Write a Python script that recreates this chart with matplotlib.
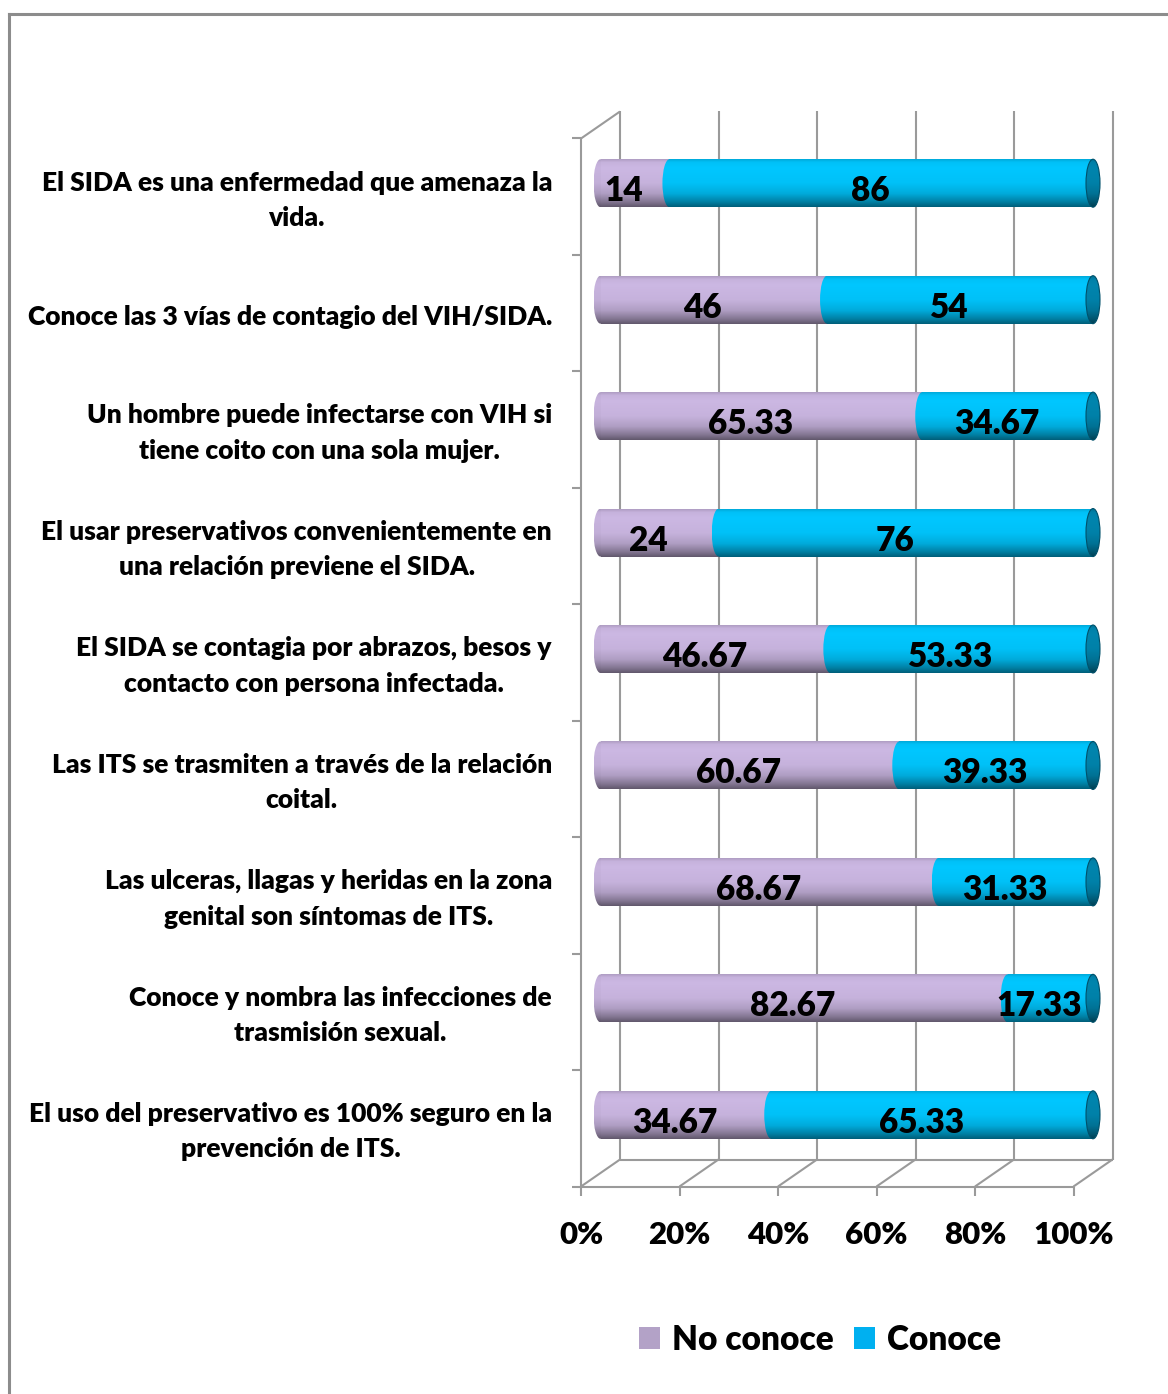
import numpy as np
import matplotlib
matplotlib.use("Agg")
import matplotlib.pyplot as plt
from matplotlib.patches import Ellipse, Patch
from matplotlib.lines import Line2D

# ---------------- data ----------------
categories = [
    "El SIDA es una enfermedad que amenaza la\nvida.",
    "Conoce las 3 vías de contagio del VIH/SIDA.",
    "Un hombre puede infectarse con VIH si\ntiene coito con una sola mujer.",
    "El usar preservativos convenientemente en\nuna relación previene el SIDA.",
    "El SIDA se contagia por abrazos, besos y\ncontacto con persona infectada.",
    "Las ITS se trasmiten a través de la relación\ncoital.",
    "Las ulceras, llagas y heridas en la zona\ngenital son síntomas de ITS.",
    "Conoce y nombra las infecciones de\ntrasmisión sexual.",
    "El uso del preservativo es 100% seguro en la\nprevención de ITS.",
]
no_conoce = [14, 46, 65.33, 24, 46.67, 60.67, 68.67, 82.67, 34.67]
conoce = [86, 54, 34.67, 76, 53.33, 39.33, 31.33, 17.33, 65.33]
no_labels = ["14", "46", "65.33", "24", "46.67", "60.67", "68.67", "82.67", "34.67"]
si_labels = ["86", "54", "34.67", "76", "53.33", "39.33", "31.33", "17.33", "65.33"]
x_ticks = [0, 20, 40, 60, 80, 100]
x_ticklabels = ["0%", "20%", "40%", "60%", "80%", "100%"]
series_names = ["No conoce", "Conoce"]

# ---------------- style ----------------
FONT = "Lato"
WEIGHT = "heavy"
PURPLE = np.array([0.80, 0.72, 0.89])
BLUE = np.array([0.0, 0.78, 1.0])
CAP = np.array([0.0, 0.52, 0.68])
LEG_PURPLE = "#B3A2C7"
LEG_BLUE = "#00B0F0"
GRID = "#9A9A9A"

W, H = 1168, 1394
fig = plt.figure(figsize=(W / 100, H / 100), dpi=100)
fig.patch.set_facecolor("white")

# middle depth plane of the 3-D box (pixels)
p0, p100, ax_t, ax_b = 600.5, 1093, 125, 1173
ppx = (p100 - p0) / 100.0         # pixels per x unit
ppy = (ax_b - ax_t) / 9.0         # pixels per category
PAD = 4.0                          # extra x units on both sides (room for caps)
ax_l = p0 - PAD * ppx
ax_r = p100 + PAD * ppx
ax = fig.add_axes([ax_l / W, 1 - ax_b / H, (ax_r - ax_l) / W, (ax_b - ax_t) / H])
XLIM = (-PAD, 100 + PAD)
ax.set_xlim(*XLIM)
ax.set_ylim(8.5, -0.5)
ax.axis("off")

DXU = 19.5 / ppx                  # half depth, x
DYU = 13.5 / ppy                  # half depth, y

n = len(categories)
ypos = np.arange(n)
gkw = dict(color=GRID, lw=1.5, solid_capstyle="butt", clip_on=False, zorder=1)

# back wall gridlines
for p in x_ticks:
    ax.plot([p + DXU, p + DXU], [-0.5 - DYU, 8.5 - DYU], **gkw)
# left wall
ax.plot([-DXU, -DXU], [-0.5 + DYU, 8.5 + DYU], **gkw)
ax.plot([-DXU, DXU], [-0.5 + DYU, -0.5 - DYU], **gkw)
for k in range(n + 1):
    yy = -0.5 + k + DYU
    ax.plot([-DXU - 9 / ppx, -DXU], [yy, yy], **gkw)
# floor
ax.plot([DXU, 100 + DXU], [8.5 - DYU, 8.5 - DYU], **gkw)
ax.plot([-DXU, 100 - DXU], [8.5 + DYU, 8.5 + DYU], **gkw)
for p in x_ticks:
    ax.plot([p - DXU, p + DXU], [8.5 + DYU, 8.5 - DYU], **gkw)
    ax.plot([p - DXU, p - DXU], [8.5 + DYU, 8.5 + DYU + 10 / ppy], **gkw)

# x tick labels
for p, lab in zip(x_ticks, x_ticklabels):
    ax.text(p - DXU, 8.5 + 62 / ppy, lab, ha="center", va="center",
            fontsize=22.5, fontweight=WEIGHT, family=FONT, clip_on=False)

# category labels
for i, lab in enumerate(categories):
    ax.text(-48.5 / ppx, i + 17 / ppy, lab, ha="right", va="center",
            multialignment="center", fontsize=19, fontweight=WEIGHT,
            family=FONT, linespacing=1.57, clip_on=False)

# ---------------- bars ----------------
BH = 48 / ppy
CAPW = 14 / ppx
prof_t = np.array([0.0, 0.06, 0.18, 0.5, 0.72, 0.9, 1.0])
prof_f = np.array([0.86, 0.97, 1.0, 0.97, 0.86, 0.64, 0.48])
tt = np.linspace(0, 1, 64)
fac = np.interp(tt, prof_t, prof_f)


def grad_img(base):
    return np.clip(base[None, None, :] * fac[:, None, None], 0, 1)


def shade_rect(x0, x1, yc, base, z):
    return ax.imshow(grad_img(base), extent=(x0, x1, yc + BH / 2, yc - BH / 2),
                     origin="upper", aspect="auto", zorder=z, interpolation="bilinear")


def shade_ellipse(xc, yc, base, z, edge=None):
    e = Ellipse((xc, yc), CAPW, BH, facecolor="none",
                edgecolor=edge if edge is not None else "none", lw=0.8, zorder=z + 0.1)
    ax.add_patch(e)
    im = ax.imshow(grad_img(base), extent=(xc - CAPW / 2, xc + CAPW / 2, yc + BH / 2, yc - BH / 2),
                   origin="upper", aspect="auto", zorder=z, interpolation="bilinear")
    im.set_clip_path(e)
    return im


bars_no = ax.barh(ypos, no_conoce, left=0, height=BH, color=PURPLE, zorder=2)
bars_si = ax.barh(ypos, conoce, left=no_conoce, height=BH, color=BLUE, zorder=2)

for i in range(n):
    pn = bars_no[i]
    ps = bars_si[i]
    yc = ypos[i]
    x0 = pn.get_x()
    x1 = x0 + pn.get_width()
    x2 = ps.get_x() + ps.get_width()
    shade_ellipse(x0, yc, PURPLE * 0.98, 3)
    shade_rect(x0, x1, yc, PURPLE, 4)
    shade_rect(x1, x2, yc, BLUE, 5)
    shade_ellipse(x1, yc, BLUE, 5.5)
    shade_ellipse(x2, yc, CAP, 6, edge="#00506a")

# data labels
for i in range(n):
    c1 = no_conoce[i] / 2.0
    c2 = no_conoce[i] + conoce[i] / 2.0
    for cx, lab in ((c1, no_labels[i]), (c2, si_labels[i])):
        ax.text(cx - 11 / ppx, ypos[i] + 8 / ppy, lab, ha="center", va="center",
                fontsize=24, fontweight=WEIGHT, family=FONT, color="black", zorder=10)

ax.set_xlim(*XLIM)
ax.set_ylim(8.5, -0.5)

# legend
handles = [Patch(facecolor=LEG_PURPLE, edgecolor="none"),
           Patch(facecolor=LEG_BLUE, edgecolor="none")]
leg = fig.legend(handles, series_names, loc="center", bbox_to_anchor=(820 / W, 1 - 1340 / H),
                 ncol=2, frameon=False, handlelength=0.65, handleheight=0.65,
                 handletextpad=0.35, columnspacing=0.6,
                 prop=dict(family=FONT, weight=WEIGHT, size=24))

# outer frame (left and top edges visible)
fig.add_artist(Line2D([9 / W, 9 / W], [0, 1 - 14 / H], color="#8C8C8C", lw=2.2,
                      transform=fig.transFigure))
fig.add_artist(Line2D([9 / W, 1], [1 - 14 / H, 1 - 14 / H], color="#8C8C8C", lw=2.2,
                      transform=fig.transFigure))

fig.savefig("out.png", dpi=100, facecolor="white")
